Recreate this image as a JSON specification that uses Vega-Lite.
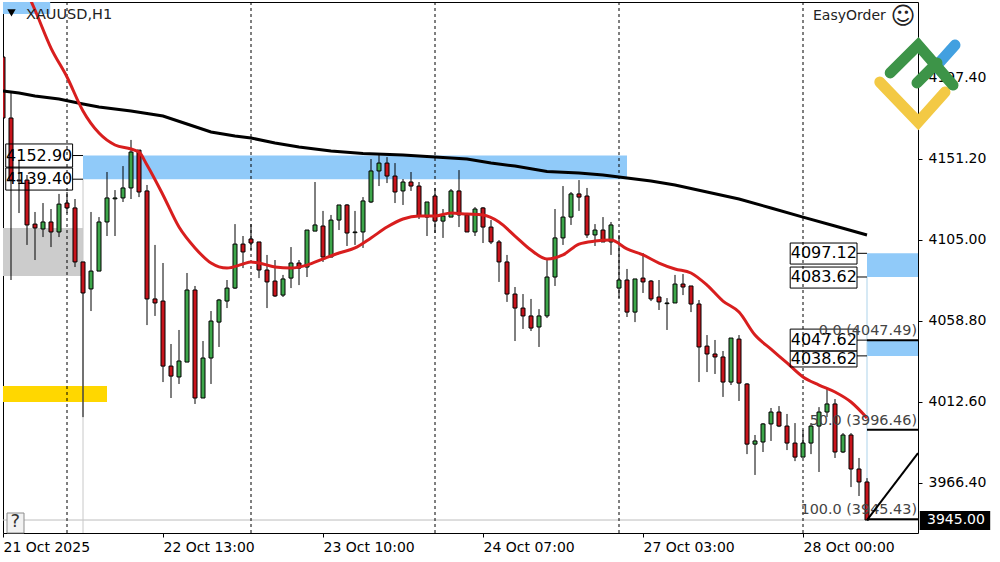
{
  "$schema": "https://vega.github.io/schema/vega-lite/v6.json",
  "width": 915,
  "height": 531,
  "autosize": "none",
  "padding": {"left": 3, "top": 2, "right": 82, "bottom": 29},
  "background": "white",
  "config": {"view": {"stroke": "black", "strokeWidth": 1}},
  "resolve": {"scale": {"color": "independent"}},
  "datasets": {
    "candles": [
      {"bar":0,"open":4209.1,"high":4225.6,"low":4167.5,"close":4174.3},
      {"bar":1,"open":4174.3,"high":4188.6,"low":4081.9,"close":4138.9},
      {"bar":2,"open":4138.9,"high":4150.3,"low":4120.1,"close":4138.4},
      {"bar":3,"open":4138.9,"high":4141.8,"low":4101.9,"close":4113.3},
      {"bar":4,"open":4113.8,"high":4120.7,"low":4093.3,"close":4111.6},
      {"bar":5,"open":4111.0,"high":4125.8,"low":4106.4,"close":4115.0},
      {"bar":6,"open":4115.0,"high":4122.4,"low":4100.7,"close":4109.3},
      {"bar":7,"open":4109.3,"high":4131.0,"low":4106.4,"close":4125.2},
      {"bar":8,"open":4125.8,"high":4132.1,"low":4120.1,"close":4123.0},
      {"bar":9,"open":4123.0,"high":4128.1,"low":4089.3,"close":4092.2},
      {"bar":10,"open":4092.2,"high":4092.2,"low":4003.7,"close":4074.5},
      {"bar":11,"open":4076.8,"high":4120.7,"low":4064.2,"close":4087.0},
      {"bar":12,"open":4087.0,"high":4117.8,"low":4087.0,"close":4115.0},
      {"bar":13,"open":4115.0,"high":4143.5,"low":4107.0,"close":4128.7},
      {"bar":14,"open":4128.2,"high":4133.2,"low":4107.0,"close":4128.7},
      {"bar":15,"open":4128.7,"high":4146.9,"low":4126.4,"close":4134.4},
      {"bar":16,"open":4134.4,"high":4161.8,"low":4128.1,"close":4154.9},
      {"bar":17,"open":4156.0,"high":4156.0,"low":4129.2,"close":4132.1},
      {"bar":18,"open":4132.7,"high":4136.1,"low":4056.2,"close":4071.1},
      {"bar":19,"open":4071.1,"high":4101.9,"low":4061.4,"close":4068.8},
      {"bar":20,"open":4069.9,"high":4091.6,"low":4023.7,"close":4032.8},
      {"bar":21,"open":4032.8,"high":4045.4,"low":4014.6,"close":4027.1},
      {"bar":22,"open":4026.6,"high":4053.4,"low":4022.6,"close":4035.7},
      {"bar":23,"open":4035.1,"high":4085.9,"low":4035.1,"close":4076.2},
      {"bar":24,"open":4076.2,"high":4078.5,"low":4011.2,"close":4014.6},
      {"bar":25,"open":4014.6,"high":4047.1,"low":4014.6,"close":4037.4},
      {"bar":26,"open":4037.4,"high":4064.2,"low":4022.6,"close":4058.5},
      {"bar":27,"open":4057.9,"high":4071.1,"low":4043.7,"close":4070.5},
      {"bar":28,"open":4069.9,"high":4081.9,"low":4065.9,"close":4077.3},
      {"bar":29,"open":4077.3,"high":4113.8,"low":4076.8,"close":4102.4},
      {"bar":30,"open":4102.4,"high":4107.0,"low":4088.7,"close":4097.9},
      {"bar":31,"open":4105.3,"high":4113.8,"low":4099.0,"close":4103.0},
      {"bar":32,"open":4103.6,"high":4103.6,"low":4083.0,"close":4087.6},
      {"bar":33,"open":4087.6,"high":4096.2,"low":4065.9,"close":4080.8},
      {"bar":34,"open":4081.3,"high":4093.3,"low":4072.2,"close":4072.8},
      {"bar":35,"open":4073.3,"high":4084.8,"low":4072.2,"close":4082.5},
      {"bar":36,"open":4083.0,"high":4100.7,"low":4077.3,"close":4091.6},
      {"bar":37,"open":4091.6,"high":4093.3,"low":4079.0,"close":4088.7},
      {"bar":38,"open":4089.3,"high":4110.4,"low":4083.6,"close":4110.4},
      {"bar":39,"open":4109.8,"high":4137.8,"low":4109.8,"close":4113.3},
      {"bar":40,"open":4112.7,"high":4121.3,"low":4092.2,"close":4095.0},
      {"bar":41,"open":4095.0,"high":4119.0,"low":4095.0,"close":4116.1},
      {"bar":42,"open":4116.1,"high":4124.7,"low":4110.4,"close":4124.7},
      {"bar":43,"open":4124.7,"high":4125.2,"low":4101.3,"close":4108.7},
      {"bar":44,"open":4108.9,"high":4121.3,"low":4101.9,"close":4109.3},
      {"bar":45,"open":4109.3,"high":4129.2,"low":4100.2,"close":4127.0},
      {"bar":46,"open":4126.4,"high":4150.9,"low":4125.8,"close":4144.1},
      {"bar":47,"open":4144.1,"high":4154.3,"low":4135.5,"close":4148.6},
      {"bar":48,"open":4148.6,"high":4152.0,"low":4137.2,"close":4141.2},
      {"bar":49,"open":4141.2,"high":4148.6,"low":4125.8,"close":4132.1},
      {"bar":50,"open":4132.7,"high":4139.5,"low":4124.7,"close":4137.8},
      {"bar":51,"open":4137.8,"high":4143.5,"low":4132.7,"close":4135.5},
      {"bar":52,"open":4135.5,"high":4137.8,"low":4116.7,"close":4118.4},
      {"bar":53,"open":4117.8,"high":4126.4,"low":4107.0,"close":4126.4},
      {"bar":54,"open":4129.8,"high":4134.4,"low":4108.7,"close":4115.5},
      {"bar":55,"open":4115.5,"high":4122.4,"low":4105.9,"close":4118.4},
      {"bar":56,"open":4117.8,"high":4133.8,"low":4117.8,"close":4132.7},
      {"bar":57,"open":4132.7,"high":4144.6,"low":4112.1,"close":4119.0},
      {"bar":58,"open":4119.0,"high":4119.0,"low":4109.3,"close":4109.3},
      {"bar":59,"open":4109.3,"high":4123.5,"low":4107.0,"close":4122.4},
      {"bar":60,"open":4123.0,"high":4123.5,"low":4103.0,"close":4112.1},
      {"bar":61,"open":4112.1,"high":4116.1,"low":4102.4,"close":4103.6},
      {"bar":62,"open":4103.6,"high":4104.7,"low":4080.8,"close":4092.2},
      {"bar":63,"open":4092.2,"high":4096.2,"low":4069.4,"close":4073.9},
      {"bar":64,"open":4073.9,"high":4077.9,"low":4047.1,"close":4065.9},
      {"bar":65,"open":4065.9,"high":4073.9,"low":4054.0,"close":4061.4},
      {"bar":66,"open":4061.4,"high":4071.1,"low":4052.8,"close":4054.5},
      {"bar":67,"open":4055.1,"high":4065.3,"low":4043.7,"close":4061.4},
      {"bar":68,"open":4061.4,"high":4093.3,"low":4060.2,"close":4083.6},
      {"bar":69,"open":4083.6,"high":4122.4,"low":4078.5,"close":4105.9},
      {"bar":70,"open":4105.9,"high":4135.5,"low":4101.9,"close":4117.8},
      {"bar":71,"open":4117.8,"high":4132.1,"low":4113.3,"close":4131.0},
      {"bar":72,"open":4131.0,"high":4138.9,"low":4121.3,"close":4129.2},
      {"bar":73,"open":4129.8,"high":4134.4,"low":4105.9,"close":4107.6},
      {"bar":74,"open":4107.6,"high":4113.8,"low":4101.3,"close":4110.4},
      {"bar":75,"open":4110.4,"high":4117.8,"low":4103.6,"close":4103.6},
      {"bar":76,"open":4103.6,"high":4115.0,"low":4096.2,"close":4113.3},
      {"bar":77,"open":4077.3,"high":4107.6,"low":4071.6,"close":4081.9},
      {"bar":78,"open":4081.9,"high":4088.2,"low":4060.8,"close":4063.6},
      {"bar":79,"open":4063.6,"high":4082.5,"low":4057.9,"close":4082.5},
      {"bar":80,"open":4083.0,"high":4097.3,"low":4074.5,"close":4080.8},
      {"bar":81,"open":4081.3,"high":4081.9,"low":4069.9,"close":4071.1},
      {"bar":82,"open":4072.2,"high":4081.9,"low":4064.8,"close":4069.4},
      {"bar":83,"open":4068.4,"high":4071.6,"low":4053.4,"close":4068.8},
      {"bar":84,"open":4068.8,"high":4084.8,"low":4068.8,"close":4079.6},
      {"bar":85,"open":4079.6,"high":4085.3,"low":4073.3,"close":4077.9},
      {"bar":86,"open":4078.5,"high":4078.5,"low":4063.6,"close":4068.2},
      {"bar":87,"open":4068.2,"high":4070.5,"low":4023.7,"close":4043.7},
      {"bar":88,"open":4044.2,"high":4050.5,"low":4029.4,"close":4039.7},
      {"bar":89,"open":4039.7,"high":4047.7,"low":4028.3,"close":4038.0},
      {"bar":90,"open":4038.0,"high":4041.4,"low":4015.2,"close":4023.7},
      {"bar":91,"open":4023.7,"high":4048.8,"low":4022.0,"close":4048.8},
      {"bar":92,"open":4048.2,"high":4050.5,"low":4012.9,"close":4023.1},
      {"bar":93,"open":4022.6,"high":4023.1,"low":3982.6,"close":3988.3},
      {"bar":94,"open":3988.3,"high":3993.5,"low":3970.7,"close":3990.1},
      {"bar":95,"open":3989.5,"high":4000.3,"low":3983.8,"close":3999.8},
      {"bar":96,"open":3999.8,"high":4008.9,"low":3990.1,"close":4006.6},
      {"bar":97,"open":4006.6,"high":4010.0,"low":3998.0,"close":3998.6},
      {"bar":98,"open":3998.6,"high":4005.5,"low":3984.9,"close":3988.9},
      {"bar":99,"open":3988.9,"high":4000.3,"low":3978.6,"close":3980.9},
      {"bar":100,"open":3980.9,"high":3996.3,"low":3980.9,"close":3988.9},
      {"bar":101,"open":3988.9,"high":4000.3,"low":3982.6,"close":3998.6},
      {"bar":102,"open":3998.6,"high":4009.4,"low":3972.4,"close":4006.6},
      {"bar":103,"open":4006.6,"high":4020.3,"low":4003.7,"close":4011.2},
      {"bar":104,"open":4011.2,"high":4014.0,"low":3980.4,"close":3983.8},
      {"bar":105,"open":3983.8,"high":3994.6,"low":3983.2,"close":3993.5},
      {"bar":106,"open":3993.5,"high":3994.6,"low":3963.8,"close":3974.1},
      {"bar":107,"open":3974.1,"high":3980.4,"low":3958.7,"close":3966.7},
      {"bar":108,"open":3966.7,"high":3968.9,"low":3945.0,"close":3945.0}
    ],
    "ma_fast": [
      {"bar":3,"ma":4246.2},{"bar":4,"ma":4235.9},{"bar":6,"ma":4214.2},{"bar":8,"ma":4197.7},
      {"bar":10,"ma":4178.3},{"bar":12,"ma":4165.7},{"bar":14,"ma":4158.9},{"bar":16,"ma":4156.6},
      {"bar":17,"ma":4154.9},{"bar":18,"ma":4147.5},{"bar":20,"ma":4130.4},{"bar":22,"ma":4112.1},
      {"bar":24,"ma":4100.2},{"bar":26,"ma":4091.6},{"bar":28,"ma":4088.7},{"bar":30,"ma":4091.0},
      {"bar":31,"ma":4092.2},{"bar":32,"ma":4091.6},{"bar":34,"ma":4089.3},{"bar":36,"ma":4088.7},
      {"bar":38,"ma":4090.4},{"bar":40,"ma":4093.9},{"bar":42,"ma":4097.3},{"bar":44,"ma":4100.2},
      {"bar":46,"ma":4105.9},{"bar":48,"ma":4112.1},{"bar":50,"ma":4116.7},{"bar":52,"ma":4118.4},
      {"bar":54,"ma":4118.4},{"bar":56,"ma":4120.1},{"bar":58,"ma":4119.5},{"bar":60,"ma":4119.0},
      {"bar":62,"ma":4115.0},{"bar":64,"ma":4107.0},{"bar":66,"ma":4099.0},{"bar":68,"ma":4093.9},
      {"bar":70,"ma":4096.2},{"bar":72,"ma":4102.4},{"bar":74,"ma":4104.1},{"bar":76,"ma":4104.7},
      {"bar":78,"ma":4099.6},{"bar":80,"ma":4096.2},{"bar":82,"ma":4091.6},{"bar":84,"ma":4088.2},
      {"bar":86,"ma":4085.9},{"bar":88,"ma":4079.0},{"bar":90,"ma":4069.9},{"bar":92,"ma":4063.6},
      {"bar":94,"ma":4050.5},{"bar":96,"ma":4042.5},{"bar":98,"ma":4034.6},{"bar":100,"ma":4026.6},
      {"bar":102,"ma":4022.0},{"bar":104,"ma":4018.0},{"bar":106,"ma":4012.3},{"bar":108,"ma":4003.2}
    ],
    "ma_slow": [
      {"bar":0,"ma":4189.7},{"bar":2,"ma":4188.6},{"bar":4,"ma":4186.9},{"bar":7,"ma":4185.1},
      {"bar":10,"ma":4182.3},{"bar":12,"ma":4180.6},{"bar":16,"ma":4178.3},{"bar":20,"ma":4175.4},
      {"bar":23,"ma":4170.9},{"bar":26,"ma":4166.3},{"bar":29,"ma":4164.0},{"bar":31,"ma":4162.9},
      {"bar":34,"ma":4160.0},{"bar":37,"ma":4157.8},{"bar":41,"ma":4155.5},{"bar":45,"ma":4154.0},
      {"bar":50,"ma":4153.2},{"bar":54,"ma":4152.1},{"bar":58,"ma":4150.9},{"bar":61,"ma":4148.6},
      {"bar":64,"ma":4146.9},{"bar":68,"ma":4143.8},{"bar":72,"ma":4142.9},{"bar":75,"ma":4141.8},
      {"bar":78,"ma":4140.1},{"bar":81,"ma":4138.4},{"bar":84,"ma":4136.1},{"bar":88,"ma":4132.1},
      {"bar":92,"ma":4128.1},{"bar":96,"ma":4123.0},{"bar":100,"ma":4117.8},{"bar":104,"ma":4112.7},
      {"bar":108,"ma":4107.6}
    ],
    "zones": [
      {"bar":0,"bar2":5.9,"price":4240.47,"price2":4233.6,"zone":"blue"},
      {"bar":10,"bar2":78,"price":4152.9,"price2":4139.4,"zone":"blue"},
      {"bar":108,"bar2":114.375,"price":4097.12,"price2":4083.62,"zone":"blue"},
      {"bar":108,"bar2":114.375,"price":4047.62,"price2":4038.62,"zone":"blue"},
      {"bar":0,"bar2":10,"price":4111.6,"price2":4084.2,"zone":"gray"},
      {"bar":0,"bar2":13,"price":4021.4,"price2":4012.3,"zone":"gold"}
    ],
    "boxes": [
      {"bar":0.34,"bar2":8.7,"price":4159.5,"price2":4146.3},
      {"bar":0.34,"bar2":8.7,"price":4145.8,"price2":4133.2},
      {"bar":98.4,"bar2":106.75,"price":4103.0,"price2":4091.0},
      {"bar":98.4,"bar2":106.75,"price":4089.3,"price2":4077.3},
      {"bar":98.4,"bar2":106.75,"price":4053.9,"price2":4041.4},
      {"bar":98.4,"bar2":106.75,"price":4041.4,"price2":4032.3}
    ],
    "box_labels": [
      {"bar":4.52,"price":4152.9,"label":"4152.90"},
      {"bar":4.52,"price":4139.5,"label":"4139.40"},
      {"bar":102.6,"price":4097.1,"label":"4097.12"},
      {"bar":102.6,"price":4083.6,"label":"4083.62"},
      {"bar":102.6,"price":4047.6,"label":"4047.62"},
      {"bar":102.6,"price":4036.9,"label":"4038.62"}
    ],
    "connectors": [
      {"bar":8.7,"bar2":10,"price":4152.9},
      {"bar":8.7,"bar2":10,"price":4139.4},
      {"bar":106.75,"bar2":108,"price":4097.12},
      {"bar":106.75,"bar2":108,"price":4083.62},
      {"bar":106.75,"bar2":108,"price":4047.62},
      {"bar":106.75,"bar2":108,"price":4038.62}
    ],
    "fib": [
      {"bar":108,"bar2":114.375,"price":4047.49},
      {"bar":108,"bar2":114.375,"price":3996.46},
      {"bar":108,"bar2":114.375,"price":3945.43}
    ],
    "fib_labels": [
      {"bar":114.25,"price":4052.8,"label":"0.0 (4047.49)"},
      {"bar":114.25,"price":4001.5,"label":"50.0 (3996.46)"},
      {"bar":114.25,"price":3950.7,"label":"100.0 (3945.43)"}
    ],
    "logo": [
      {"bar":109.6,"price":4194.8,"piece":"yellow"},{"bar":114.4,"price":4172.0,"piece":"yellow"},{"bar":117.75,"price":4189.1,"piece":"yellow"},
      {"bar":117.1,"price":4206.2,"piece":"blue"},{"bar":119,"price":4215.9,"piece":"blue"},
      {"bar":114.25,"price":4194.3,"piece":"green2"},{"bar":116.75,"price":4205.7,"piece":"green2"},
      {"bar":110.9,"price":4200.0,"piece":"green1"},{"bar":114.4,"price":4215.9,"piece":"green1"},{"bar":118.75,"price":4193.1,"piece":"green1"}
    ]
  },
  "encoding": {
    "x": {
      "field": "bar",
      "type": "quantitative",
      "scale": {"domain": [0, 114.375], "nice": false, "zero": false, "padding": 0},
      "axis": {
        "title": null,
        "grid": false,
        "domain": false,
        "values": [0, 20, 40, 60, 80, 100],
        "tickColor": "black",
        "tickSize": 4,
        "labelAlign": "left",
        "labelPadding": 3,
        "labelFont": "DejaVu Sans",
        "labelFontSize": 14,
        "labelColor": "black",
        "labelOverlap": false,
        "labelFlush": false,
        "labelExpr": "{'0':'21 Oct 2025','20':'22 Oct 13:00','40':'23 Oct 10:00','60':'24 Oct 07:00','80':'27 Oct 03:00','100':'28 Oct 00:00'}[datum.value]"
      }
    }
  },
  "layer": [
    {
      "data": {"name": "zones"},
      "mark": {"type": "rect"},
      "encoding": {
        "x2": {"field": "bar2"},
        "y": {
          "field": "price",
          "type": "quantitative",
          "scale": {"domain": [3937.6, 4240.47], "nice": false, "zero": false, "padding": 0},
          "axis": {
            "title": null,
            "orient": "right",
            "grid": false,
            "domain": false,
            "values": [3966.4, 4012.6, 4058.8, 4105, 4151.2, 4197.4],
            "format": ".2f",
            "tickColor": "black",
            "tickSize": 4,
            "labelPadding": 6,
            "labelFont": "DejaVu Sans",
            "labelFontSize": 14,
            "labelColor": "black",
            "labelOverlap": false,
            "labelFlush": false
          }
        },
        "y2": {"field": "price2"},
        "color": {
          "field": "zone",
          "type": "nominal",
          "legend": null,
          "scale": {"domain": ["blue", "gray", "gold"], "range": ["#90CAF9", "#CCCCCC", "#FFD700"]}
        }
      }
    },
    {
      "data": {"values": [{"bar": 0, "bar2": 114.375, "price": 3945}]},
      "mark": {"type": "rule", "color": "#BDBDBD", "strokeWidth": 1},
      "encoding": {
        "x2": {"field": "bar2"},
        "y": {"field": "price", "type": "quantitative", "axis": {"orient": "right", "title": null}}
      }
    },
    {
      "data": {"values": [{"bar": 10, "price": 4139.4, "price2": 3937.6}]},
      "mark": {"type": "rule", "color": "#C8C8C8", "strokeWidth": 1},
      "encoding": {
        "y": {"field": "price", "type": "quantitative", "axis": {"orient": "right", "title": null}},
        "y2": {"field": "price2"}
      }
    },
    {
      "data": {"values": [{"bar": 108, "price": 4083.62, "price2": 3945}]},
      "mark": {"type": "rule", "color": "#ADD3EA", "strokeWidth": 1},
      "encoding": {
        "y": {"field": "price", "type": "quantitative", "axis": {"orient": "right", "title": null}},
        "y2": {"field": "price2"}
      }
    },
    {
      "data": {"values": [{"bar": 8}, {"bar": 31}, {"bar": 54}, {"bar": 77}, {"bar": 100}]},
      "mark": {"type": "rule", "color": "black", "strokeWidth": 1, "strokeDash": [3, 3]},
      "encoding": {}
    },
    {
      "data": {"name": "candles"},
      "mark": {"type": "rule", "color": "black", "strokeWidth": 1, "clip": true},
      "encoding": {
        "y": {"field": "low", "type": "quantitative", "axis": {"orient": "right", "title": null}},
        "y2": {"field": "high"}
      }
    },
    {
      "data": {"name": "candles"},
      "mark": {"type": "bar", "orient": "vertical", "size": 4, "stroke": "black", "strokeWidth": 1, "clip": true},
      "encoding": {
        "y": {"field": "open", "type": "quantitative", "axis": {"orient": "right", "title": null}},
        "y2": {"field": "close"},
        "color": {
          "condition": {"test": "datum.close >= datum.open", "value": "#3DA64A"},
          "value": "#C8141C"
        }
      }
    },
    {
      "data": {"name": "ma_slow"},
      "mark": {"type": "line", "color": "black", "strokeWidth": 3, "clip": true},
      "encoding": {"y": {"field": "ma", "type": "quantitative", "axis": {"orient": "right", "title": null}}}
    },
    {
      "data": {"name": "ma_fast"},
      "mark": {"type": "line", "color": "#D81E1E", "strokeWidth": 3, "interpolate": "monotone", "clip": true},
      "encoding": {"y": {"field": "ma", "type": "quantitative", "axis": {"orient": "right", "title": null}}}
    },
    {
      "data": {"name": "connectors"},
      "mark": {"type": "rule", "color": "black", "strokeWidth": 1},
      "encoding": {
        "x2": {"field": "bar2"},
        "y": {"field": "price", "type": "quantitative", "axis": {"orient": "right", "title": null}}
      }
    },
    {
      "data": {"name": "boxes"},
      "mark": {"type": "rect", "fillOpacity": 0, "stroke": "black", "strokeWidth": 1},
      "encoding": {
        "x2": {"field": "bar2"},
        "y": {"field": "price", "type": "quantitative", "axis": {"orient": "right", "title": null}},
        "y2": {"field": "price2"}
      }
    },
    {
      "data": {"name": "box_labels"},
      "mark": {"type": "text", "font": "DejaVu Sans", "fontSize": 16, "color": "black", "align": "center", "baseline": "middle"},
      "encoding": {
        "y": {"field": "price", "type": "quantitative", "axis": {"orient": "right", "title": null}},
        "text": {"field": "label"}
      }
    },
    {
      "data": {"name": "fib"},
      "mark": {"type": "rule", "color": "black", "strokeWidth": 2},
      "encoding": {
        "x2": {"field": "bar2"},
        "y": {"field": "price", "type": "quantitative", "axis": {"orient": "right", "title": null}}
      }
    },
    {
      "data": {"name": "fib_labels"},
      "mark": {"type": "text", "font": "DejaVu Sans", "fontSize": 14.4, "color": "#444444", "align": "right", "baseline": "middle"},
      "encoding": {
        "y": {"field": "price", "type": "quantitative", "axis": {"orient": "right", "title": null}},
        "text": {"field": "label"}
      }
    },
    {
      "data": {"values": [{"bar": 108, "price": 3945}, {"bar": 114.375, "price": 3983.2}]},
      "mark": {"type": "line", "color": "black", "strokeWidth": 2},
      "encoding": {"y": {"field": "price", "type": "quantitative", "axis": {"orient": "right", "title": null}}}
    },
    {
      "data": {"values": [{"bar": 0.5, "bar2": 2.625, "price": 3949, "price2": 3937.6}]},
      "mark": {"type": "rect", "fill": "#F2F2F2", "stroke": "#8C8C8C", "strokeWidth": 1},
      "encoding": {
        "x2": {"field": "bar2"},
        "y": {"field": "price", "type": "quantitative", "axis": {"orient": "right", "title": null}},
        "y2": {"field": "price2"}
      }
    },
    {
      "data": {"values": [{"bar": 1.55, "price": 3943.6, "label": "?"}]},
      "mark": {"type": "text", "font": "DejaVu Sans", "fontSize": 18, "color": "#333333", "align": "center", "baseline": "middle"},
      "encoding": {
        "y": {"field": "price", "type": "quantitative", "axis": {"orient": "right", "title": null}},
        "text": {"field": "label"}
      }
    },
    {
      "data": {"values": [{"bar": 2.875, "price": 4232.8, "label": "XAUUSD,H1"}]},
      "mark": {"type": "text", "font": "DejaVu Sans", "fontSize": 14.5, "color": "#222222", "align": "left", "baseline": "middle"},
      "encoding": {
        "y": {"field": "price", "type": "quantitative", "axis": {"orient": "right", "title": null}},
        "text": {"field": "label"}
      }
    },
    {
      "data": {"values": [{"bar": 101.25, "price": 4232.5, "label": "EasyOrder"}]},
      "mark": {"type": "text", "font": "DejaVu Sans", "fontSize": 14, "color": "#222222", "align": "left", "baseline": "middle"},
      "encoding": {
        "y": {"field": "price", "type": "quantitative", "axis": {"orient": "right", "title": null}},
        "text": {"field": "label"}
      }
    },
    {
      "data": {"values": [{"bar": 112.5, "price": 4231.9, "label": "☺"}]},
      "mark": {"type": "text", "font": "DejaVu Sans", "fontSize": 24, "color": "#222222", "align": "center", "baseline": "middle"},
      "encoding": {
        "y": {"field": "price", "type": "quantitative", "axis": {"orient": "right", "title": null}},
        "text": {"field": "label"}
      }
    },
    {
      "data": {"values": [{"bar": 1.06, "price": 4234.2}]},
      "mark": {"type": "point", "shape": "triangle-down", "filled": true, "color": "black", "size": 70, "opacity": 1},
      "encoding": {"y": {"field": "price", "type": "quantitative", "axis": {"orient": "right", "title": null}}}
    },
    {
      "data": {"values": [{"bar": 114.6, "bar2": 123.4, "price": 3950.1, "price2": 3939.3}]},
      "mark": {"type": "rect", "fill": "black"},
      "encoding": {
        "x2": {"field": "bar2"},
        "y": {"field": "price", "type": "quantitative", "axis": {"orient": "right", "title": null}},
        "y2": {"field": "price2"}
      }
    },
    {
      "data": {"values": [{"bar": 115.5, "price": 3945, "label": "3945.00"}]},
      "mark": {"type": "text", "font": "DejaVu Sans", "fontSize": 14, "color": "white", "align": "left", "baseline": "middle"},
      "encoding": {
        "y": {"field": "price", "type": "quantitative", "axis": {"orient": "right", "title": null}},
        "text": {"field": "label"}
      }
    },
    {
      "data": {"name": "logo"},
      "mark": {"type": "line", "strokeWidth": 11, "strokeCap": "round", "strokeJoin": "miter"},
      "encoding": {
        "y": {"field": "price", "type": "quantitative", "axis": {"orient": "right", "title": null}},
        "detail": {"field": "piece"},
        "color": {
          "field": "piece",
          "type": "nominal",
          "legend": null,
          "scale": {"domain": ["yellow", "blue", "green2", "green1"], "range": ["#F3C944", "#42A0E0", "#3D9448", "#3D9448"]}
        }
      }
    }
  ]
}
